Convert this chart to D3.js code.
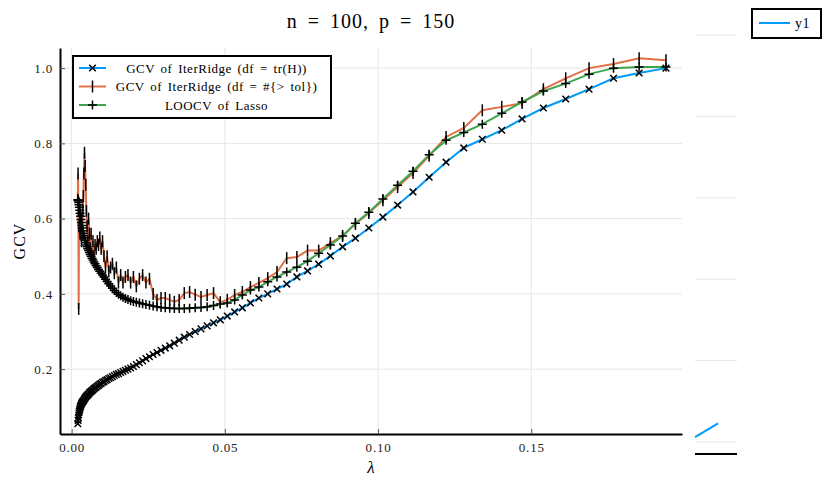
<!DOCTYPE html>
<html>
<head>
<meta charset="utf-8">
<script src="https://cdn.jsdelivr.net/npm/d3@7"></script>
<style>
  body { margin: 0; background: #fff; }
  svg { font-family: "Liberation Serif", "DejaVu Serif", serif; }
</style>
</head>
<body>
<svg id="chart"></svg>
<script>
// lambda grid (log spaced)
const lambdas = [
  0.002000, 0.002095, 0.002194, 0.002297, 0.002406, 0.002520, 0.002639, 0.002764, 0.002894, 0.003031,
  0.003175, 0.003325, 0.003482, 0.003647, 0.003819, 0.004000, 0.004189, 0.004387, 0.004595, 0.004812,
  0.005040, 0.005278, 0.005528, 0.005789, 0.006063, 0.006349, 0.006650, 0.006964, 0.007293, 0.007638,
  0.008000, 0.008378, 0.008774, 0.009189, 0.009623, 0.010079, 0.010555, 0.011054, 0.011577, 0.012125,
  0.012700, 0.013301, 0.013930, 0.014589, 0.015279, 0.016001, 0.016758, 0.017550, 0.018380, 0.019249,
  0.020160, 0.021113, 0.022111, 0.023157, 0.024252, 0.025399, 0.026600, 0.027858, 0.029175, 0.030555,
  0.032000, 0.033513, 0.035098, 0.036758, 0.038496, 0.040316, 0.042223, 0.044220, 0.046311, 0.048501,
  0.050794, 0.053196, 0.055712, 0.058346, 0.061105, 0.063995, 0.067021, 0.070191, 0.073510, 0.076986,
  0.080627, 0.084439, 0.088432, 0.092614, 0.096994, 0.101580, 0.106384, 0.111415, 0.116683, 0.122201,
  0.127980, 0.134032, 0.140370, 0.147007, 0.153959, 0.161240, 0.168864, 0.176850, 0.185213, 0.193971
]

// GCV of IterRidge (df = tr(H))
const gcvTrace = [
  0.055, 0.064, 0.071, 0.078, 0.084, 0.089, 0.093, 0.097, 0.101, 0.104,
  0.107, 0.110, 0.112, 0.114, 0.116, 0.118, 0.121, 0.123, 0.126, 0.128,
  0.130, 0.132, 0.134, 0.137, 0.139, 0.141, 0.143, 0.145, 0.148, 0.150,
  0.152, 0.155, 0.157, 0.160, 0.162, 0.165, 0.167, 0.170, 0.172, 0.175,
  0.177, 0.180, 0.183, 0.186, 0.188, 0.191, 0.194, 0.197, 0.200, 0.203,
  0.207, 0.212, 0.217, 0.222, 0.228, 0.233, 0.239, 0.244, 0.250, 0.256,
  0.262, 0.269, 0.277, 0.285, 0.292, 0.300, 0.307, 0.315, 0.323, 0.331,
  0.341, 0.352, 0.363, 0.376, 0.389, 0.400, 0.413, 0.426, 0.445, 0.461,
  0.479, 0.501, 0.525, 0.548, 0.575, 0.604, 0.636, 0.671, 0.710, 0.750,
  0.788, 0.811, 0.835, 0.865, 0.894, 0.918, 0.944, 0.973, 0.987, 1.000
]

// GCV of IterRidge (df = #{> tol})
const gcvTol = [
  0.650, 0.720, 0.620, 0.360, 0.580, 0.640, 0.600, 0.560, 0.620, 0.580,
  0.540, 0.600, 0.560, 0.620, 0.660, 0.720, 0.775, 0.740, 0.690, 0.620,
  0.580, 0.540, 0.600, 0.560, 0.520, 0.560, 0.500, 0.540, 0.500, 0.530,
  0.520, 0.540, 0.530, 0.550, 0.520, 0.540, 0.500, 0.470, 0.500, 0.460,
  0.470, 0.480, 0.455, 0.470, 0.430, 0.450, 0.430, 0.445, 0.450, 0.430,
  0.445, 0.420, 0.440, 0.450, 0.430, 0.440, 0.400, 0.384, 0.389, 0.389,
  0.384, 0.379, 0.384, 0.402, 0.405, 0.398, 0.392, 0.397, 0.402, 0.378,
  0.384, 0.397, 0.405, 0.418, 0.429, 0.442, 0.458, 0.495, 0.498, 0.515,
  0.515, 0.535, 0.554, 0.586, 0.615, 0.649, 0.684, 0.721, 0.767, 0.817,
  0.841, 0.888, 0.897, 0.907, 0.944, 0.973, 1.000, 1.011, 1.026, 1.021
]

// LOOCV of Lasso
const loocvLasso = [
  0.650, 0.649, 0.647, 0.643, 0.637, 0.630, 0.622, 0.614, 0.606, 0.598,
  0.590, 0.582, 0.575, 0.568, 0.561, 0.555, 0.549, 0.542, 0.536, 0.530,
  0.525, 0.520, 0.515, 0.510, 0.505, 0.500, 0.495, 0.490, 0.485, 0.480,
  0.475, 0.470, 0.465, 0.460, 0.455, 0.450, 0.445, 0.439, 0.433, 0.427,
  0.421, 0.415, 0.409, 0.404, 0.399, 0.395, 0.391, 0.388, 0.385, 0.382,
  0.380, 0.378, 0.376, 0.374, 0.372, 0.370, 0.368, 0.366, 0.364, 0.363,
  0.362, 0.361, 0.361, 0.361, 0.362, 0.363, 0.364, 0.366, 0.369, 0.373,
  0.376, 0.384, 0.397, 0.410, 0.418, 0.432, 0.445, 0.458, 0.471, 0.487,
  0.508, 0.530, 0.554, 0.588, 0.617, 0.652, 0.689, 0.726, 0.770, 0.808,
  0.829, 0.851, 0.880, 0.910, 0.939, 0.959, 0.984, 1.000, 1.003, 1.003
]

const xTicks = [0, 0.05, 0.10, 0.15]
const yTicks = [0.2, 0.4, 0.6, 0.8, 1.0]

const seriesNames = ["GCV of IterRidge (df = tr(H))", "GCV of IterRidge (df = #{> tol})", "LOOCV of Lasso"]
const seriesColors = ["#009AFA", "#E36F47", "#3EA44E"]
const seriesMarkers = ["xcross", "vline", "cross"]

// the stray second subplot "y1"
const y1X = [0, 0.55]
const y1Y = [0.06, 0.23]
const y1Grid = [0, 1, 2, 3, 4, 5]

const dimensions = {
  width: 830,
  height: 485,
  margin: { top: 48, right: 148, bottom: 51, left: 60 },
}
const plotRight = dimensions.width - dimensions.margin.right
const plotBottom = dimensions.height - dimensions.margin.bottom

const svg = d3.select("#chart")
  .attr("width", dimensions.width)
  .attr("height", dimensions.height)

const xScale = d3.scaleLinear()
  .domain([-0.0038, 0.1992])
  .range([dimensions.margin.left, plotRight])

const yScale = d3.scaleLinear()
  .domain([0.0276, 1.0535])
  .range([plotBottom, dimensions.margin.top])

// grid
const grid = svg.append("g").attr("stroke", "#e6e6e6").attr("stroke-width", 1)
grid.selectAll(".gx").data(xTicks).enter().append("line")
  .attr("x1", d => xScale(d)).attr("x2", d => xScale(d))
  .attr("y1", dimensions.margin.top).attr("y2", plotBottom)
grid.selectAll(".gy").data(yTicks).enter().append("line")
  .attr("x1", dimensions.margin.left).attr("x2", plotRight)
  .attr("y1", d => yScale(d)).attr("y2", d => yScale(d))

svg.append("clipPath").attr("id", "clip")
  .append("rect")
  .attr("x", dimensions.margin.left).attr("y", dimensions.margin.top)
  .attr("width", plotRight - dimensions.margin.left)
  .attr("height", plotBottom - dimensions.margin.top)

function markerPath(type, s) {
  if (type == "xcross") return `M${-s},${-s}L${s},${s}M${-s},${s}L${s},${-s}`
  if (type == "vline") return `M0,${-s}L0,${s}`
  return `M${-s},0L${s},0M0,${-s}L0,${s}`
}
const markerSize = { xcross: 3.3, vline: 6, cross: 4.5 }

const allSeries = [gcvTrace, gcvTol, loocvLasso]
const plotArea = svg.append("g").attr("clip-path", "url(#clip)")

const line = d3.line()
  .x((d, i) => xScale(lambdas[i]))
  .y(d => yScale(d))

allSeries.forEach(function(values, s) {
  plotArea.append("path")
    .datum(values)
    .attr("d", line)
    .attr("fill", "none")
    .attr("stroke", seriesColors[s])
    .attr("stroke-width", 2)

  plotArea.append("g")
    .selectAll("path")
    .data(values)
    .enter()
    .append("path")
    .attr("transform", (d, i) => `translate(${xScale(lambdas[i])},${yScale(d)})`)
    .attr("d", markerPath(seriesMarkers[s], markerSize[seriesMarkers[s]]))
    .attr("stroke", "black")
    .attr("stroke-width", 1.5)
    .attr("fill", "none")
})

// axes
const xAxis = d3.axisBottom(xScale).tickValues(xTicks).tickFormat(d3.format(".2f"))
  .tickSizeInner(-5).tickSizeOuter(0).tickPadding(9)
const xAxisGroup = svg.append("g")
  .attr("transform", `translate(0,${plotBottom})`)
  .call(xAxis)
xAxisGroup.select(".domain").attr("stroke", "black").attr("stroke-width", 2)
xAxisGroup.selectAll(".tick line").attr("stroke", "#555")
xAxisGroup.selectAll("text").attr("font-size", "13px").attr("fill", "#222")
  .attr("font-family", "Liberation Serif").attr("letter-spacing", "0.8px")

const yAxis = d3.axisLeft(yScale).tickValues(yTicks).tickFormat(d3.format(".1f"))
  .tickSizeInner(-5).tickSizeOuter(0).tickPadding(7)
const yAxisGroup = svg.append("g")
  .attr("transform", `translate(${dimensions.margin.left},0)`)
  .call(yAxis)
yAxisGroup.select(".domain").attr("stroke", "black").attr("stroke-width", 2)
yAxisGroup.selectAll(".tick line").attr("stroke", "#555")
yAxisGroup.selectAll("text").attr("font-size", "13px").attr("fill", "#222")
  .attr("font-family", "Liberation Serif").attr("letter-spacing", "0.8px")

// titles
svg.append("text")
  .text("n = 100, p = 150")
  .attr("x", 371)
  .attr("y", 28)
  .attr("text-anchor", "middle")
  .attr("font-size", "20px")
  .attr("letter-spacing", "1px")
  .attr("word-spacing", "4px")

svg.append("text")
  .text("λ")
  .attr("x", (dimensions.margin.left + plotRight) / 2)
  .attr("y", 473)
  .attr("text-anchor", "middle")
  .attr("font-size", "17px")
  .attr("font-style", "italic")

svg.append("text")
  .text("GCV")
  .attr("x", -241)
  .attr("y", 25)
  .attr("text-anchor", "middle")
  .attr("font-size", "16px")
  .attr("letter-spacing", "1px")
  .attr("transform", "rotate(-90)")

// legend
const legend = svg.append("g")
legend.append("rect")
  .attr("x", 73).attr("y", 56).attr("width", 258).attr("height", 62)
  .attr("fill", "white").attr("stroke", "black").attr("stroke-width", 2)

const entries = legend.selectAll(".entry")
  .data(seriesNames)
  .enter()
  .append("g")
  .attr("transform", (d, i) => `translate(0,${68 + i * 18.5})`)
entries.append("line")
  .attr("x1", 79).attr("x2", 106)
  .attr("stroke", (d, i) => seriesColors[i])
  .attr("stroke-width", 2)
entries.append("path")
  .attr("transform", "translate(92.5,0)")
  .attr("d", (d, i) => markerPath(seriesMarkers[i], markerSize[seriesMarkers[i]]))
  .attr("stroke", "black").attr("stroke-width", 1.5).attr("fill", "none")
entries.append("text")
  .text(d => d)
  .attr("x", 216.5)
  .attr("y", 4.5)
  .attr("text-anchor", "middle")
  .attr("font-size", "13px")
  .attr("letter-spacing", "0.5px")
  .attr("word-spacing", "2px")

// second subplot (y1)
const subX = d3.scaleLinear().domain([0, 1]).range([695, 737])
const subY = d3.scaleLinear().domain([0, 5]).range([442, 35])

svg.append("g")
  .selectAll("line")
  .data(y1Grid)
  .enter()
  .append("line")
  .attr("x1", subX(0)).attr("x2", subX(1))
  .attr("y1", d => subY(d)).attr("y2", d => subY(d))
  .attr("stroke", "#e6e6e6")

svg.append("line")
  .attr("x1", subX(0)).attr("x2", subX(1))
  .attr("y1", 454).attr("y2", 454)
  .attr("stroke", "black").attr("stroke-width", 2)

svg.append("path")
  .datum(y1X)
  .attr("d", d3.line().x(d => subX(d)).y((d, i) => subY(y1Y[i])))
  .attr("stroke", seriesColors[0])
  .attr("stroke-width", 2)
  .attr("fill", "none")

const y1Legend = svg.append("g")
y1Legend.append("rect")
  .attr("x", 752).attr("y", 9).attr("width", 69).attr("height", 29)
  .attr("fill", "white").attr("stroke", "black").attr("stroke-width", 2)
y1Legend.append("line")
  .attr("x1", 759).attr("x2", 790).attr("y1", 23).attr("y2", 23)
  .attr("stroke", seriesColors[0]).attr("stroke-width", 2)
y1Legend.append("text")
  .text("y1")
  .attr("x", 795).attr("y", 27.5)
  .attr("font-size", "14px")
  .attr("letter-spacing", "0.5px")
</script>
</body>
</html>
